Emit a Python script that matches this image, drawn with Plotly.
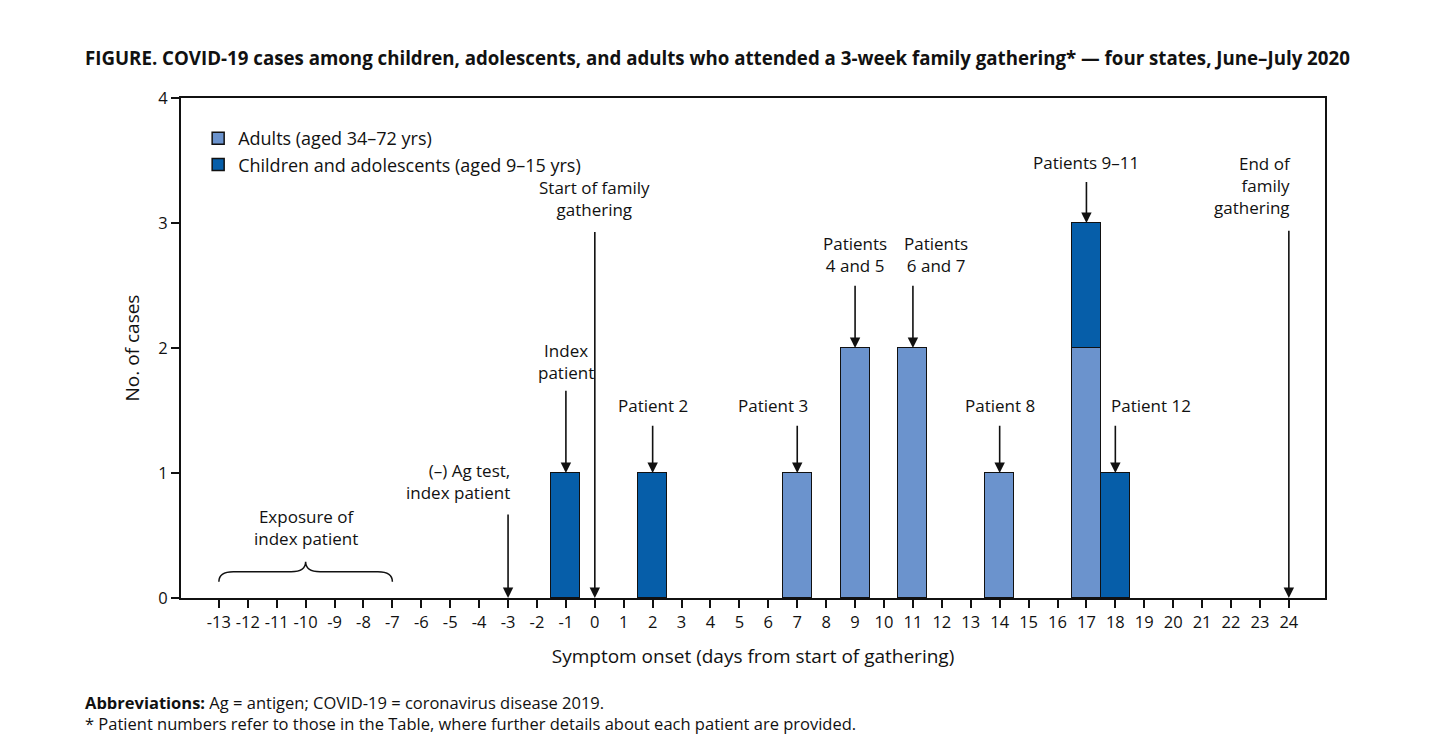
import plotly.graph_objects as go

# ---- data ----
days = list(range(-13, 25))
tick_labels = [str(d) for d in days]
adult_days = [7, 9, 11, 14, 17]
adult_cases = [1, 2, 2, 1, 2]
child_days = [-1, 2, 17, 18]
child_cases = [1, 1, 1, 1]

FONT = "Open Sans"
ADULT_COLOR = "#6b93cd"
CHILD_COLOR = "#065ea9"

fig = go.Figure()
fig.add_trace(go.Bar(x=adult_days, y=adult_cases, width=1, name="Adults (aged 34\u201372 yrs)",
                     marker=dict(color=ADULT_COLOR, line=dict(color="#111", width=1.5))))
fig.add_trace(go.Bar(x=child_days, y=child_cases, width=1, name="Children and adolescents (aged 9\u201315 yrs)",
                     marker=dict(color=CHILD_COLOR, line=dict(color="#111", width=1.5))))

# annotations: (text, arrow_x, text_x, text_bottom_y, tail_y, head_y, xanchor)
notes = [
    ("Index<br>patient", -1, -1, 1.70, 1.67, 1.0, "center"),
    ("Patient 2", 2, 2, 1.43, 1.39, 1.0, "center"),
    ("Patient 3", 7, 6.16, 1.43, 1.39, 1.0, "center"),
    ("Patients<br>4 and 5", 9, 9, 2.55, 2.51, 2.0, "center"),
    ("Patients<br>6 and 7", 11, 11.79, 2.55, 2.51, 2.0, "center"),
    ("Patient 8", 14, 14, 1.43, 1.39, 1.0, "center"),
    ("Patients 9\u201311", 17, 17, 3.38, 3.34, 3.0, "center"),
    ("Patient 12", 18, 19.23, 1.43, 1.39, 1.0, "center"),
    ("End of<br>family<br>gathering", 24, 24.14, 3.02, 2.95, 0.0, "right"),
    ("Start of family<br>gathering", 0, 0, 3.0, 2.94, 0.0, "center"),
    ("(\u2013) Ag test,<br>index patient", -3, -2.87, 0.74, 0.68, 0.0, "right"),
]
for text, axv, tx, ty, tail, head, xa in notes:
    fig.add_annotation(x=tx, y=ty, xref="x", yref="y", text=text, showarrow=False,
                       xanchor=xa, yanchor="bottom", align=xa,
                       font=dict(family=FONT, size=17, color="#111"))
    fig.add_annotation(x=axv, y=head, ax=axv, ay=tail, xref="x", yref="y", axref="x", ayref="y",
                       text="", showarrow=True, arrowhead=2, arrowsize=1.3, arrowwidth=1.6,
                       arrowcolor="#111", standoff=0)

# exposure brace
bx0, bx1 = -13, -7
bxm = (bx0 + bx1) / 2
by0, bym, byt = 0.13, 0.21, 0.29
d = 0.5
path = (f"M {bx0},{by0} Q {bx0},{bym} {bx0+d},{bym} L {bxm-d},{bym} Q {bxm},{bym} {bxm},{byt} "
        f"Q {bxm},{bym} {bxm+d},{bym} L {bx1-d},{bym} Q {bx1},{bym} {bx1},{by0}")
fig.add_shape(type="path", path=path, xref="x", yref="y", line=dict(color="#111", width=1.5))
fig.add_annotation(x=bxm, y=0.37, xref="x", yref="y", text="Exposure of<br>index patient",
                   showarrow=False, yanchor="bottom", font=dict(family=FONT, size=17, color="#111"))

# title and footnotes
fig.add_annotation(x=-0.0857, y=(598 - 58) / 500, xref="paper", yref="paper", xanchor="left", yanchor="middle",
                   showarrow=False,
                   text="<b>FIGURE. COVID-19 cases among children, adolescents, and adults who attended a 3-week family gathering* \u2014 four states, June\u2013July 2020</b>",
                   font=dict(family=FONT, size=18.7, color="#111"))
fig.add_annotation(x=-0.0857, y=(598 - 712.5) / 500, xref="paper", yref="paper", xanchor="left", yanchor="middle",
                   showarrow=False, align="left",
                   text=("<b>Abbreviations:</b> Ag = antigen; COVID-19 = coronavirus disease 2019.<br>"
                         "* Patient numbers refer to those in the Table, where further details about each patient are provided."),
                   font=dict(family=FONT, size=16.5, color="#111"))

fig.update_layout(
    width=1456, height=753,
    margin=dict(l=173, r=139, t=90, b=163),
    paper_bgcolor="white", plot_bgcolor="white",
    barmode="stack", bargap=0,
    font=dict(family=FONT, size=16, color="#111"),
    legend=dict(x=0.015, y=0.956, xanchor="left", yanchor="top", bgcolor="rgba(0,0,0,0)",
                font=dict(family=FONT, size=18, color="#111"), traceorder="normal", tracegroupgap=0),
    showlegend=True,
)
fig.update_xaxes(range=[-14.31, 25.25], tickmode="array", tickvals=days, ticktext=tick_labels,
                 showline=True, linecolor="#111", linewidth=2, mirror=True, ticks="outside",
                 ticklen=8, tickwidth=2, tickcolor="#111", showgrid=False, zeroline=False,
                 tickfont=dict(size=16.5),
                 title=dict(text="Symptom onset (days from start of gathering)", font=dict(size=19), standoff=18))
fig.update_yaxes(range=[0, 4], tickvals=[0, 1, 2, 3, 4], showline=True, linecolor="#111", linewidth=2,
                 mirror=True, ticks="outside", ticklen=8, tickwidth=2, tickcolor="#111",
                 showgrid=False, zeroline=False, tickfont=dict(size=16.5),
                 title=dict(text="No. of cases", font=dict(size=19), standoff=14))

fig.write_html("out.html")
